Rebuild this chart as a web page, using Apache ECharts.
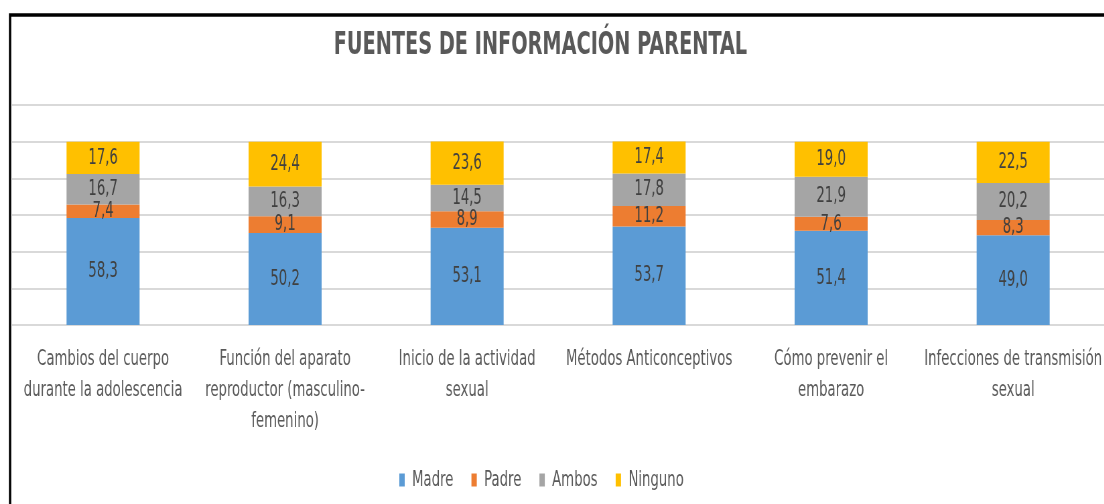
<!DOCTYPE html>
<html>
<head>
<meta charset="utf-8">
<script src="https://cdn.jsdelivr.net/npm/echarts@6/dist/echarts.min.js"></script>
<style>
  html, body { margin: 0; padding: 0; background: #fff; overflow: hidden; width: 1104px; height: 504px; }
  /* the source picture is squeezed horizontally, so the chart is drawn wide and narrowed */
  #chart { width: 1648px; height: 504px; transform: scaleX(0.67); transform-origin: 0 0; }
</style>
</head>
<body>
<div id="chart"></div>
<script>
var categories = [
    'Cambios del cuerpo\ndurante la adolescencia',
    'Función del aparato\nreproductor (masculino-\nfemenino)',
    'Inicio de la actividad\nsexual',
    'Métodos Anticonceptivos',
    'Cómo prevenir el\nembarazo',
    'Infecciones de transmisión\nsexual'
];
var madre = [58.3, 50.2, 53.1, 53.7, 51.4, 49.0];
var padre = [7.4, 9.1, 8.9, 11.2, 7.6, 8.3];
var ambos = [16.7, 16.3, 14.5, 17.8, 21.9, 20.2];
var ninguno = [17.6, 24.4, 23.6, 17.4, 19.0, 22.5];
var seriesNames = ['Madre', 'Padre', 'Ambos', 'Ninguno'];

var fontFam = '"DejaVu Sans Condensed", "Noto Sans", sans-serif';

function serie(name, data, color) {
    return {
        name: name,
        type: 'bar',
        stack: 'total',
        barWidth: 109,
        data: data,
        itemStyle: { color: color },
        label: {
            show: true,
            position: 'inside',
            color: '#404040',
            fontFamily: fontFam,
            fontSize: 22,
            formatter: function (p) {
                return p.value.toFixed(1).replace('.', ',');
            }
        }
    };
}

var chart = echarts.init(document.getElementById('chart'));
chart.setOption({
    animation: false,
    graphic: [{
        type: 'rect',
        z: -10,
        shape: { x: 15, y: 15, width: 1800, height: 600 },
        style: { fill: 'none', stroke: '#000', lineWidth: 3.5 }
    }],
    title: {
        text: 'FUENTES DE INFORMACIÓN PARENTAL',
        left: 493,
        top: 25,
        textStyle: {
            fontFamily: fontFam,
            fontSize: 32,
            fontWeight: 'bold',
            color: '#595959'
        }
    },
    legend: {
        data: seriesNames,
        bottom: 8,
        left: 591,
        itemWidth: 8,
        itemHeight: 13,
        itemGap: 27,
        icon: 'rect',
        textStyle: { fontFamily: fontFam, fontSize: 22, color: '#595959', padding: [0, 0, 0, 6] }
    },
    grid: { left: 18, right: 0, top: 105, bottom: 179, containLabel: false, outerBoundsMode: 'none' },
    xAxis: {
        type: 'category',
        data: categories,
        axisLine: { show: false },
        axisTick: { show: false },
        axisLabel: {
            interval: 0,
            margin: 19,
            lineHeight: 31,
            fontFamily: fontFam,
            fontSize: 22,
            color: '#595959'
        }
    },
    yAxis: {
        type: 'value',
        min: 0,
        max: 120,
        interval: 20,
        axisLabel: { show: false },
        axisLine: { show: false },
        axisTick: { show: false },
        splitLine: { lineStyle: { color: '#D9D9D9', width: 2 } }
    },
    series: [
        serie('Madre', madre, '#5B9BD5'),
        serie('Padre', padre, '#ED7D31'),
        serie('Ambos', ambos, '#A5A5A5'),
        serie('Ninguno', ninguno, '#FFC000')
    ]
});
</script>
</body>
</html>
